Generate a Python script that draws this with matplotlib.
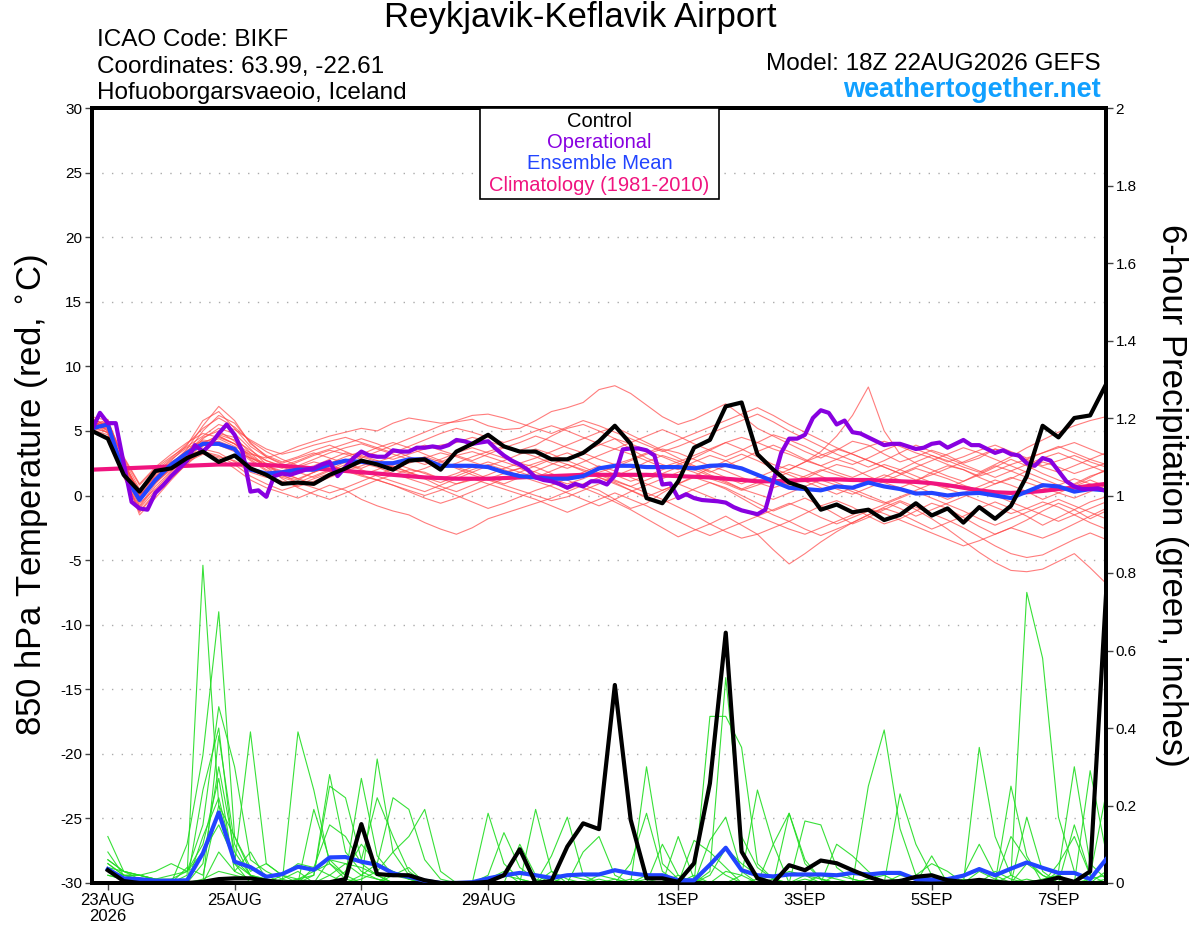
import numpy as np
import matplotlib
matplotlib.use("Agg")
import matplotlib.pyplot as plt
from matplotlib.patches import Rectangle

plt.rcParams['font.family'] = ['Liberation Sans', 'DejaVu Sans']

# ---------------- data ----------------
# time in days since 23AUG2026 00Z; 6-hourly from 22AUG 18Z
n6 = 65
step6 = 0.25
start = -0.25

xtick_days = [0, 2, 4, 6, 9, 11, 13, 15]
xtick_labels = ["23AUG\n2026", "25AUG", "27AUG", "29AUG", "1SEP", "3SEP", "5SEP", "7SEP"]

legend_labels = ['Control', 'Operational', 'Ensemble Mean', 'Climatology (1981-2010)']

control_temp = [5.0, 4.4, 1.6, 0.3, 1.9, 2.1, 2.9, 3.4, 2.6, 3.1, 2.1, 1.6, 0.9, 1.0, 0.9, 1.6,
                2.1, 2.7, 2.4, 2.0, 2.7, 2.8, 2.0, 3.4, 4.0, 4.7, 3.8, 3.4, 3.4, 2.8, 2.8, 3.3,
                4.2, 5.4, 4.0, -0.2, -0.6, 1.1, 3.7, 4.3, 6.9, 7.2, 3.2, 2.0, 1.0, 0.6, -1.1, -0.7,
                -1.3, -1.1, -1.9, -1.5, -0.6, -1.55, -1.0, -2.1, -0.9, -1.8, -0.8, 1.5, 5.4, 4.5, 6.0, 6.2,
                8.6]

# operational is 3-hourly (129 values)
operational_temp = [5.1, 6.4, 5.6, 5.6, 2.5, -0.5, -1.0, -1.1, 0.2, 0.8, 1.5, 2.1, 2.7, 3.9, 3.4, 4.0,
                    4.8, 5.5, 4.7, 3.4, 0.3, 0.4, -0.1, 1.5, 1.7, 1.6, 1.8, 2.0, 2.1, 2.4, 2.6, 1.5,
                    2.2, 2.9, 3.4, 3.1, 3.0, 3.0, 3.5, 3.4, 3.4, 3.7, 3.7, 3.8, 3.7, 3.9, 4.3, 4.2,
                    4.0, 4.1, 4.2, 3.6, 3.1, 2.7, 2.4, 2.0, 1.4, 1.2, 1.1, 0.9, 0.6, 0.9, 0.7, 1.1,
                    1.1, 0.85, 1.55, 3.57, 3.64, 3.64, 3.5, 3.1, 0.85, 0.93, -0.2, 0.1, -0.2, -0.35, -0.4, -0.45,
                    -0.55, -0.9, -1.15, -1.3, -1.45, -1.1, 1.1, 3.3, 4.4, 4.4, 4.7, 6.0, 6.6, 6.4, 5.5, 5.8,
                    4.9, 4.8, 4.5, 4.2, 3.9, 4.0, 4.0, 3.8, 3.6, 3.7, 4.0, 4.1, 3.7, 4.0, 4.3, 3.9,
                    3.9, 3.6, 3.3, 3.5, 3.2, 3.1, 2.5, 2.3, 2.9, 2.7, 1.9, 1.1, 0.7, 0.5, 0.5, 0.55,
                    0.35]

mean_temp = [5.2, 5.5, 1.7, -0.35, 1.2, 2.4, 3.3, 4.0, 4.0, 3.6, 2.0, 1.7, 1.8, 2.0, 2.0, 2.4,
             2.7, 2.6, 2.5, 2.5, 2.8, 2.8, 2.3, 2.3, 2.3, 2.2, 1.8, 1.5, 1.4, 1.3, 1.3, 1.5,
             2.1, 2.3, 2.3, 2.2, 2.2, 2.2, 2.1, 2.3, 2.35, 2.1, 1.6, 1.1, 0.6, 0.5, 0.4, 0.7,
             0.6, 1.0, 0.7, 0.5, 0.15, 0.2, 0.0, 0.15, 0.2, 0.0, -0.2, 0.3, 0.8, 0.7, 0.3, 0.5,
             0.4]

climo_temp = [2.0, 2.05, 2.1, 2.15, 2.2, 2.25, 2.3, 2.35, 2.4, 2.4, 2.4, 2.35, 2.3, 2.2, 2.1, 2.0,
              1.9, 1.8, 1.7, 1.6, 1.5, 1.4, 1.35, 1.3, 1.3, 1.3, 1.35, 1.4, 1.45, 1.5, 1.55, 1.6,
              1.6, 1.6, 1.6, 1.6, 1.55, 1.5, 1.45, 1.4, 1.3, 1.2, 1.1, 1.1, 1.15, 1.2, 1.25, 1.25,
              1.2, 1.2, 1.15, 1.1, 1.05, 0.95, 0.8, 0.6, 0.4, 0.25, 0.2, 0.25, 0.35, 0.5, 0.6, 0.75,
              0.9]

member_temp_01 = [5.8, 5.2, 2.1, -0.8, 0.9, 2.2, 3.4, 4.5, 5.0, 4.2, 2.8, 2.0, 1.5, 1.2, 1.8, 2.5, 3.0, 3.4, 3.1, 2.8, 3.2, 3.6, 3.9, 4.1, 4.5, 4.2, 3.8, 3.5, 3.9, 4.6, 5.2, 5.5, 5.0, 4.4, 3.6, 2.9, 2.4, 2.0, 2.6, 3.1, 2.7, 2.1, 1.6, 1.2, 0.8, 1.3, 1.9, 2.4, 2.1, 1.5, 1.0, 0.6, 1.1, 1.8, 2.3, 2.0, 1.4, 0.9, 1.3, 1.9, 2.6, 2.2, 1.7, 2.1, 2.5]
member_temp_02 = [5.4, 5.9, 2.6, 0.2, 1.5, 2.4, 3.1, 3.9, 4.4, 3.8, 3.2, 2.9, 3.3, 3.8, 4.2, 4.6, 4.9, 5.2, 5.0, 5.6, 6.0, 5.8, 5.6, 5.7, 5.9, 5.4, 5.1, 5.2, 5.8, 6.5, 6.8, 7.2, 8.2, 8.5, 7.9, 7.0, 6.1, 5.5, 5.9, 6.5, 7.1, 6.2, 5.2, 4.6, 4.0, 3.4, 2.9, 3.5, 4.2, 3.9, 3.2, 2.6, 3.0, 3.5, 3.1, 2.5, 2.9, 3.6, 3.2, 2.8, 2.3, 2.7, 3.1, 2.6, 2.2]
member_temp_03 = [6.0, 5.3, 1.6, -1.2, 0.2, 1.5, 2.6, 3.2, 2.9, 2.1, 1.2, 0.6, 0.2, -0.2, 0.3, 0.8, 0.4, -0.3, -0.8, -1.2, -1.5, -2.1, -2.6, -3.0, -2.5, -1.8, -1.4, -1.0, -0.6, -0.2, 0.3, 0.8, 0.4, -0.3, -1.0, -0.6, 0.2, 0.9, 1.4, 1.0, 0.5, -0.2, -0.9, -1.5, -2.0, -1.4, -0.8, -0.4, -0.9, -1.6, -2.2, -1.8, -1.2, -0.6, -1.0, -1.7, -2.4, -3.0, -2.5, -1.9, -1.2, -0.6, -1.1, -1.8, -1.2]
member_temp_04 = [5.1, 4.7, 1.9, -0.3, 1.2, 2.3, 3.0, 3.6, 3.3, 2.6, 1.8, 1.4, 1.7, 2.2, 2.6, 2.3, 1.9, 1.5, 1.2, 1.6, 2.0, 1.8, 1.3, 0.9, 1.2, 1.6, 2.1, 2.5, 2.2, 1.7, 1.2, 0.6, 0.1, -0.5, -1.1, -1.8, -2.5, -3.2, -2.7, -2.2, -1.6, -2.3, -3.0, -4.2, -5.3, -4.5, -3.6, -2.8, -2.1, -1.5, -1.0, -1.4, -2.0, -2.6, -2.1, -1.6, -1.0, -0.5, -1.0, -1.6, -2.3, -1.7, -1.1, -0.5, -0.1]
member_temp_05 = [5.5, 5.6, 2.4, 0.1, 1.0, 2.0, 3.3, 5.0, 6.2, 5.6, 4.1, 3.0, 2.4, 2.0, 2.3, 2.8, 3.3, 3.0, 2.6, 2.2, 2.5, 2.9, 3.3, 3.0, 2.6, 2.2, 1.8, 2.1, 2.5, 2.9, 3.3, 2.8, 2.2, 1.6, 1.1, 1.5, 2.0, 2.4, 2.9, 3.5, 4.1, 3.6, 3.0, 2.4, 2.0, 2.6, 3.4, 4.6, 6.2, 8.4, 5.0, 3.2, 2.5, 2.0, 1.5, 1.1, 1.6, 2.2, 2.8, 2.3, 1.7, 1.2, 0.8, 1.4, 2.0]
member_temp_06 = [5.9, 5.4, 1.8, -1.5, -0.2, 1.2, 2.5, 3.8, 4.6, 4.0, 3.1, 2.3, 1.8, 1.3, 0.9, 1.4, 1.9, 2.3, 2.7, 2.3, 1.8, 1.3, 0.7, 0.3, 0.8, 1.3, 1.7, 2.1, 1.6, 1.0, 0.5, 0.9, 1.4, 1.0, 0.4, -0.2, -0.6, -0.1, 0.5, 1.0, 0.6, 0.0, -0.6, -1.2, -0.7, -0.2, -0.8, -1.5, -2.2, -1.7, -1.1, -0.5, -1.1, -1.8, -2.6, -3.5, -4.4, -5.2, -5.8, -5.9, -5.7, -5.1, -4.5, -5.6, -6.8]
member_temp_07 = [5.3, 4.9, 2.3, 0.4, 1.7, 2.8, 3.7, 4.2, 3.9, 3.4, 2.9, 2.5, 2.1, 2.6, 3.1, 3.5, 3.2, 2.8, 2.4, 2.0, 1.7, 2.1, 2.6, 3.1, 3.4, 3.0, 2.6, 2.2, 1.8, 1.3, 0.9, 1.3, 1.8, 2.2, 2.7, 3.2, 3.6, 3.3, 2.8, 2.3, 1.9, 1.4, 1.0, 0.6, 1.0, 1.5, 2.0, 1.6, 1.2, 0.9, 1.4, 2.0, 2.6, 3.1, 2.7, 2.2, 1.8, 2.4, 3.0, 3.7, 4.3, 4.9, 5.4, 5.8, 6.1]
member_temp_08 = [5.6, 5.0, 2.0, -0.6, 0.5, 1.8, 3.0, 4.4, 5.2, 4.8, 3.6, 2.4, 1.6, 1.0, 0.6, 0.2, 0.6, 1.1, 1.6, 2.1, 2.6, 3.0, 2.6, 2.1, 1.6, 1.2, 0.8, 0.4, 0.0, -0.4, -0.1, 0.4, 0.9, 1.5, 2.0, 2.6, 3.1, 2.7, 2.2, 1.6, 1.1, 0.5, 0.1, -0.3, 0.2, 0.7, 1.2, 0.8, 0.3, -0.2, -0.6, -0.1, 0.4, 0.9, 0.5, 0.1, -0.4, -0.9, -1.4, -1.0, -0.5, -0.9, -1.5, -2.1, -2.6]
member_temp_09 = [5.2, 5.5, 2.9, 0.8, 2.1, 3.0, 3.8, 4.6, 5.5, 5.1, 4.3, 3.6, 3.2, 3.5, 3.9, 4.2, 4.5, 4.1, 3.7, 3.3, 3.8, 4.3, 4.8, 5.2, 4.9, 4.5, 4.1, 4.5, 5.0, 5.4, 5.0, 4.5, 4.0, 3.6, 4.1, 4.6, 5.1, 4.6, 4.0, 3.5, 3.0, 3.5, 4.1, 4.7, 4.3, 3.8, 3.2, 2.8, 2.4, 2.9, 3.5, 4.0, 3.6, 3.1, 2.6, 3.0, 3.5, 3.9, 3.4, 2.9, 3.3, 3.8, 3.3, 2.8, 2.4]
member_temp_10 = [5.7, 4.8, 1.4, -1.0, 0.4, 1.6, 2.8, 4.0, 4.7, 4.3, 3.5, 2.7, 2.2, 1.8, 1.4, 1.9, 2.4, 2.0, 1.5, 1.1, 0.7, 0.3, 0.8, 1.3, 1.8, 2.3, 2.7, 3.2, 3.6, 3.2, 2.7, 2.2, 1.7, 1.2, 0.7, 0.2, -0.3, -0.9, -1.5, -2.2, -2.8, -3.3, -3.0, -2.5, -2.0, -2.6, -3.1, -2.6, -2.1, -1.5, -0.9, -0.4, -0.9, -1.4, -1.9, -2.5, -3.2, -3.9, -4.5, -4.8, -4.6, -4.0, -3.4, -2.9, -3.4]
member_temp_11 = [6.1, 5.8, 2.7, 0.0, 1.3, 2.5, 3.5, 4.3, 4.1, 3.5, 2.9, 2.3, 1.9, 2.3, 2.8, 3.3, 3.7, 4.0, 3.6, 3.2, 2.8, 2.4, 2.8, 3.3, 3.7, 3.3, 2.9, 2.5, 2.9, 3.4, 3.9, 4.4, 4.9, 5.3, 4.7, 4.1, 3.5, 2.9, 2.3, 1.8, 2.3, 2.8, 3.4, 3.9, 3.4, 2.8, 2.3, 1.8, 1.4, 1.9, 2.4, 2.0, 1.5, 1.0, 0.6, 1.1, 1.7, 2.3, 1.9, 1.4, 0.9, 0.4, 0.9, 1.5, 1.9]
member_temp_12 = [5.0, 4.5, 1.7, -0.9, 0.7, 1.9, 2.9, 3.4, 3.1, 2.4, 1.5, 0.9, 0.4, 0.8, 1.3, 1.7, 2.1, 2.5, 2.2, 1.7, 1.3, 0.9, 0.5, 0.0, -0.5, -1.0, -0.6, -0.1, 0.4, 0.8, 1.3, 1.8, 2.3, 1.9, 1.4, 0.9, 0.4, 0.9, 1.5, 2.1, 2.7, 3.2, 2.7, 2.1, 1.6, 1.1, 0.6, 0.1, 0.6, 1.1, 1.6, 1.2, 0.7, 0.2, -0.3, 0.2, 0.7, 1.2, 0.8, 0.3, -0.3, 0.2, 0.7, 1.2, 0.7]
member_temp_13 = [5.6, 5.1, 2.2, -0.4, 1.1, 2.4, 3.6, 5.4, 6.9, 5.8, 4.0, 3.1, 2.6, 3.0, 3.5, 3.9, 3.4, 2.9, 3.4, 3.9, 4.4, 4.9, 5.4, 5.8, 6.2, 6.3, 6.0, 5.6, 5.2, 4.8, 5.3, 5.8, 5.4, 4.9, 4.4, 3.9, 3.4, 3.8, 4.3, 4.8, 5.3, 5.8, 6.3, 5.7, 5.0, 4.4, 3.8, 3.2, 2.7, 2.2, 2.7, 3.3, 3.9, 3.4, 2.9, 2.4, 1.9, 1.4, 1.9, 2.4, 2.9, 3.3, 2.8, 2.3, 1.8]
member_temp_14 = [5.4, 5.2, 2.5, 0.3, 1.4, 2.6, 3.3, 3.9, 4.2, 3.7, 2.7, 1.9, 1.4, 1.0, 1.5, 2.0, 2.6, 3.1, 2.7, 2.2, 1.8, 1.4, 1.0, 1.5, 2.0, 2.4, 2.0, 1.5, 1.1, 0.7, 0.2, -0.3, -0.8, -0.3, 0.3, 0.8, 1.3, 1.8, 2.3, 1.9, 1.4, 0.9, 1.4, 1.9, 2.4, 2.0, 1.5, 1.0, 0.5, 0.0, -0.5, -1.0, -1.6, -1.1, -0.6, -0.1, 0.4, 0.0, -0.5, -1.0, -1.5, -2.0, -1.5, -1.0, -0.5]
member_temp_15 = [5.8, 5.6, 2.8, 0.5, 1.9, 2.9, 4.0, 5.2, 6.0, 5.3, 4.2, 3.4, 2.8, 2.3, 1.8, 2.2, 2.7, 3.2, 3.7, 4.1, 3.7, 3.2, 2.7, 2.2, 1.8, 1.3, 0.9, 1.4, 1.9, 2.4, 2.9, 3.4, 3.9, 4.4, 4.0, 3.5, 3.0, 2.5, 2.0, 1.5, 1.0, 0.5, 1.0, 1.5, 2.0, 2.6, 3.1, 3.6, 3.2, 2.7, 2.2, 1.7, 2.2, 2.7, 3.2, 3.7, 3.3, 2.8, 2.3, 1.8, 1.3, 0.8, 1.3, 0.9, 0.5]
member_temp_16 = [5.2, 4.9, 2.0, -0.2, 1.0, 2.1, 2.7, 3.3, 3.0, 2.7, 2.0, 1.5, 1.1, 0.7, 1.1, 1.6, 2.0, 1.6, 1.2, 0.8, 0.4, 0.0, 0.4, 0.9, 1.3, 0.9, 0.5, 0.1, -0.3, -0.8, -1.3, -0.8, -0.3, 0.2, -0.3, -0.8, -1.4, -2.0, -2.6, -3.1, -2.6, -2.1, -1.6, -1.1, -0.6, -1.1, -1.7, -2.2, -1.7, -1.2, -0.7, -0.2, 0.3, -0.2, -0.7, -1.2, -1.8, -2.3, -1.8, -1.3, -0.8, -0.3, -0.8, -1.3, -1.8]
member_temp_17 = [5.5, 5.4, 2.3, -0.1, 1.6, 2.7, 3.9, 5.8, 6.5, 5.2, 3.8, 3.0, 2.5, 2.9, 3.3, 2.9, 2.5, 2.1, 2.6, 3.0, 3.5, 3.9, 3.5, 3.1, 2.7, 3.2, 3.7, 4.1, 4.6, 4.2, 3.7, 3.3, 2.8, 2.4, 2.8, 3.3, 3.8, 4.3, 4.8, 5.3, 5.8, 6.3, 6.8, 6.2, 5.5, 4.9, 4.3, 3.7, 3.2, 2.7, 2.2, 1.7, 1.2, 1.6, 2.1, 2.6, 3.1, 3.6, 3.2, 2.7, 2.2, 1.8, 2.3, 2.8, 3.3]
member_temp_18 = [5.9, 5.0, 1.5, -1.3, 0.1, 1.4, 2.4, 3.5, 4.8, 4.5, 3.3, 2.2, 1.3, 0.6, 0.1, -0.3, 0.2, 0.7, 1.2, 0.8, 0.3, -0.2, -0.6, -0.2, 0.3, 0.8, 1.3, 1.8, 2.3, 2.8, 2.4, 1.9, 1.4, 0.9, 0.4, -0.1, 0.4, 0.9, 0.4, -0.1, -0.6, -1.1, -1.6, -2.1, -2.6, -3.0, -2.5, -2.0, -1.5, -1.0, -1.4, -1.9, -2.4, -2.9, -3.4, -3.9, -3.5, -3.0, -2.5, -2.9, -3.3, -2.8, -2.2, -1.6, -1.0]
member_temp_19 = [5.3, 5.7, 3.0, 0.9, 2.2, 3.2, 4.1, 4.8, 4.5, 4.0, 3.3, 2.7, 2.3, 2.7, 3.2, 3.6, 4.0, 4.4, 4.0, 3.5, 3.0, 2.6, 2.1, 2.5, 3.0, 3.4, 3.8, 3.4, 3.0, 2.5, 2.1, 2.6, 3.1, 3.6, 3.2, 2.7, 2.2, 2.6, 3.1, 3.6, 4.1, 4.5, 4.1, 3.6, 3.2, 2.7, 2.3, 2.8, 3.3, 3.8, 4.2, 3.8, 3.3, 2.9, 2.4, 2.0, 1.5, 1.9, 2.4, 2.8, 3.3, 3.7, 4.1, 3.6, 3.1]
member_temp_20 = [5.6, 5.3, 2.4, 0.0, 1.2, 2.2, 3.2, 4.1, 4.6, 4.0, 3.0, 2.2, 1.7, 1.3, 1.8, 2.3, 2.0, 1.6, 2.0, 2.5, 2.1, 1.7, 1.3, 1.7, 2.2, 2.6, 2.2, 1.8, 1.4, 1.9, 2.4, 2.0, 1.6, 1.1, 0.7, 1.2, 1.7, 2.2, 1.8, 1.3, 0.9, 0.4, 0.8, 1.3, 1.8, 1.4, 0.9, 0.5, 0.1, 0.6, 1.1, 1.6, 2.1, 1.7, 1.3, 0.8, 0.4, 0.9, 1.4, 1.0, 0.6, 0.2, -0.2, 0.3, 0.8]

member_temps = [member_temp_01, member_temp_02, member_temp_03, member_temp_04, member_temp_05,
                member_temp_06, member_temp_07, member_temp_08, member_temp_09, member_temp_10,
                member_temp_11, member_temp_12, member_temp_13, member_temp_14, member_temp_15,
                member_temp_16, member_temp_17, member_temp_18, member_temp_19, member_temp_20]

# 6-hour precipitation (inches), valid 23AUG 00Z .. 7SEP 18Z (64 values)
control_precip = [0.033, 0.005, 0.0, 0.0, 0.0, 0.0, 0.003, 0.01, 0.012, 0.012, 0.006, 0.002, 0.002, 0.002, 0.002, 0.01,
                  0.152, 0.023, 0.02, 0.02, 0.007, 0.0, 0.0, 0.0, 0.003, 0.02, 0.087, 0.0, 0.005, 0.094, 0.154, 0.139,
                  0.511, 0.163, 0.012, 0.012, 0.003, 0.051, 0.257, 0.646, 0.081, 0.012, 0.0, 0.046, 0.033, 0.058, 0.051, 0.033,
                  0.016, 0.003, 0.005, 0.016, 0.02, 0.007, 0.003, 0.008, 0.003, 0.0, 0.0, 0.004, 0.014, 0.003, 0.03, 0.743]
mean_precip = [0.036, 0.012, 0.010, 0.006, 0.006, 0.007, 0.077, 0.182, 0.055, 0.041, 0.016, 0.023, 0.042, 0.034, 0.066, 0.067,
               0.055, 0.047, 0.025, 0.016, 0.006, 0.0, 0.0, 0.002, 0.012, 0.02, 0.026, 0.02, 0.013, 0.02, 0.022, 0.022,
               0.033, 0.025, 0.02, 0.02, 0.007, 0.007, 0.047, 0.091, 0.033, 0.02, 0.017, 0.022, 0.022, 0.022, 0.02, 0.026,
               0.022, 0.026, 0.026, 0.01, 0.009, 0.01, 0.019, 0.036, 0.02, 0.037, 0.053, 0.039, 0.026, 0.026, 0.01, 0.061]

member_precip_01 = [.12, .03, .02, .01, .00, .02, .82, .20, .05, .02, .00, .01, .03, .00, .02, .05, .02, .01, .00, .00, .00, .00, .00, .00, .01, .03, .00, .00, .01, .00, .00, .01, .00, .00, .02, .01, .00, .00, .05, .02, .00, .00, .01, .03, .02, .00, .00, .00, .01, .02, .00, .00, .00, .00, .01, .00, .00, .02, .75, .58, .17, .03, .00, .01]
member_precip_02 = [.08, .02, .01, .00, .00, .10, .33, .70, .12, .04, .02, .00, .01, .03, .05, .02, .00, .00, .03, .01, .00, .00, .00, .00, .18, .05, .01, .00, .00, .02, .01, .00, .00, .01, .00, .00, .02, .00, .03, .53, .12, .04, .01, .00, .00, .02, .01, .00, .00, .00, .02, .01, .00, .00, .00, .03, .01, .00, .05, .02, .00, .00, .01, .02]
member_precip_03 = [.06, .03, .02, .03, .05, .03, .15, .455, .30, .06, .03, .01, .00, .02, .28, .08, .03, .01, .00, .00, .00, .00, .00, .00, .02, .13, .04, .01, .00, .00, .00, .02, .01, .00, .00, .00, .00, .00, .43, .43, .35, .05, .01, .00, .02, .01, .00, .00, .00, .00, .01, .00, .02, .01, .00, .00, .03, .01, .00, .01, .02, .00, .00, .00]
member_precip_04 = [.05, .02, .01, .00, .00, .00, .24, .40, .05, .39, .05, .02, .00, .19, .06, .02, .27, .07, .02, .01, .00, .00, .00, .00, .00, .00, .10, .02, .00, .00, .00, .00, .00, .00, .30, .05, .01, .00, .00, .00, .00, .01, .00, .18, .05, .01, .00, .00, .00, .00, .00, .00, .00, .00, .02, .10, .02, .00, .00, .00, .03, .30, .05, .01]
member_precip_05 = [.04, .01, .00, .00, .00, .00, .05, .30, .08, .02, .01, .00, .39, .24, .05, .01, .00, .32, .08, .02, .00, .00, .00, .00, .00, .00, .00, .19, .03, .00, .00, .00, .00, .00, .01, .00, .00, .02, .00, .00, .00, .00, .00, .00, .01, .00, .00, .00, .25, .395, .14, .02, .00, .00, .00, .00, .00, .00, .01, .00, .00, .00, .00, .00]
member_precip_06 = [.03, .02, .02, .01, .01, .03, .10, .27, .03, .08, .01, .00, .01, .02, .25, .22, .06, .22, .12, .03, .00, .00, .00, .00, .00, .02, .01, .00, .07, .17, .02, .00, .01, .00, .00, .10, .02, .00, .00, .00, .02, .24, .10, .00, .00, .00, .02, .01, .00, .00, .00, .00, .00, .01, .00, .00, .00, .00, .17, .03, .00, .15, .02, .23]
member_precip_07 = [.02, .01, .00, .00, .00, .04, .02, .20, .12, .03, .05, .02, .01, .00, .00, .03, .10, .05, .22, .19, .06, .01, .00, .00, .00, .00, .00, .00, .00, .00, .08, .12, .02, .00, .00, .00, .12, .01, .00, .00, .00, .00, .00, .00, .16, .15, .04, .01, .00, .00, .23, .10, .02, .00, .00, .00, .00, .00, .00, .00, .00, .00, .29, .08]
member_precip_08 = [.05, .02, .02, .01, .02, .03, .08, .15, .06, .02, .00, .00, .00, .04, .02, .00, .01, .03, .08, .12, .19, .03, .00, .00, .00, .00, .00, .00, .00, .00, .00, .00, .00, .05, .18, .03, .00, .00, .11, .17, .03, .00, .00, .00, .00, .00, .10, .07, .03, .00, .00, .00, .07, .00, .00, .35, .12, .02, .00, .00, .00, .00, .00, .00]
member_precip_09 = [.04, .03, .01, .00, .00, .00, .01, .03, .02, .01, .00, .00, .00, .00, .00, .00, .02, .05, .03, .01, .00, .00, .00, .00, .00, .00, .00, .00, .00, .00, .00, .00, .00, .00, .00, .00, .00, .00, .00, .00, .00, .00, .10, .18, .06, .01, .00, .00, .00, .00, .00, .00, .00, .00, .00, .00, .00, .25, .07, .00, .00, .00, .00, .00]
member_precip_10 = [.06, .03, .02, .01, .00, .00, .00, .08, .03, .01, .00, .00, .00, .00, .06, .05, .04, .02, .00, .00, .00, .00, .00, .00, .00, .00, .00, .00, .03, .01, .00, .00, .00, .00, .00, .00, .00, .11, .08, .04, .00, .00, .00, .00, .00, .00, .00, .00, .00, .00, .00, .02, .05, .03, .00, .00, .00, .12, .06, .02, .00, .00, .00, .00]
member_precip_11 = [.03, .01, .00, .00, .00, .00, .00, .38, .10, .02, .01, .00, .00, .00, .00, .00, .00, .00, .02, .04, .00, .00, .00, .00, .00, .00, .00, .00, .00, .00, .00, .00, .00, .00, .00, .00, .00, .00, .00, .03, .02, .00, .00, .00, .00, .00, .00, .00, .00, .00, .00, .00, .00, .00, .00, .00, .00, .00, .00, .00, .00, .00, .00, .03]
member_precip_12 = [.02, .01, .01, .00, .00, .00, .12, .22, .05, .00, .00, .02, .05, .04, .15, .12, .05, .02, .00, .00, .00, .00, .00, .00, .00, .00, .00, .00, .00, .00, .00, .00, .00, .00, .00, .00, .00, .00, .02, .09, .05, .02, .00, .00, .00, .00, .00, .00, .00, .00, .00, .00, .00, .00, .00, .00, .00, .00, .00, .00, .05, .12, .02, .00]

member_precips = [member_precip_01, member_precip_02, member_precip_03, member_precip_04,
                  member_precip_05, member_precip_06, member_precip_07, member_precip_08,
                  member_precip_09, member_precip_10, member_precip_11, member_precip_12]

# ---------------- time axes ----------------
t6 = start + step6 * np.arange(n6)
t3 = start + 0.125 * np.arange(len(operational_temp))
tp = t6[1:]

# ---------------- colours ----------------
c_member_t = '#ff4545'
c_member_p = '#22dd22'
c_control = 'black'
c_oper = '#8800e0'
c_mean = '#2244ff'
c_climo = '#f0147f'
legend_colors = [c_control, c_oper, c_mean, c_climo]

fig = plt.figure(figsize=(12, 9.27), dpi=100)
ax = fig.add_axes([92 / 1200, 44 / 927, 1014 / 1200, 775 / 927])
ax2 = ax.twinx()

# temperature members
for m in member_temps:
    ax.plot(t6, m, color=c_member_t, lw=0.8, alpha=0.7, zorder=2)

ax.plot(t6, climo_temp, color=c_climo, lw=3.0, zorder=5)
ax.plot(t6, mean_temp, color=c_mean, lw=3.0, zorder=6)
ax.plot(t3, operational_temp, color=c_oper, lw=3.0, zorder=7)
ax.plot(t6, control_temp, color=c_control, lw=3.0, zorder=8)

# precipitation
for m in member_precips:
    ax2.plot(tp, m, color=c_member_p, lw=0.8, alpha=0.9, zorder=2)
ax2.plot(tp, mean_precip, color=c_mean, lw=3.0, zorder=6)
ax2.plot(tp, control_precip, color=c_control, lw=3.0, zorder=8)

ax.set_xlim(t6[0], t6[-1])
ax.set_ylim(-30, 30)
ax2.set_ylim(0, 2)

ax.set_yticks(np.arange(-30, 31, 5))
ax.set_yticklabels([str(v) for v in range(-30, 31, 5)])
ax2.set_yticks(np.arange(0, 2.01, 0.2))
ax2.set_yticklabels(['0', '0.2', '0.4', '0.6', '0.8', '1', '1.2', '1.4', '1.6', '1.8', '2'])

ax.set_xticks(xtick_days)
ax.set_xticklabels(xtick_labels, linespacing=1.1)

for a in (ax, ax2):
    a.tick_params(axis='both', labelsize=11, length=5, width=1, color='#444444', pad=2)
    for s in a.spines.values():
        s.set_linewidth(2.8)
        s.set_color('black')
ax.tick_params(axis='x', labelsize=12)

for v in range(-25, 30, 5):
    ax.axhline(v, color='#aaaaaa', lw=1.0, ls=(0, (1, 6)), zorder=1)

ax.set_ylabel('850 hPa Temperature (red, $^{\\circ}$C)', fontsize=25, va='center')
ax.yaxis.set_label_coords(-0.06, 0.5)
ax2.set_ylabel('6-hour Precipitation (green, inches)', fontsize=25, rotation=270, va='center')
ax2.yaxis.set_label_coords(1.065, 0.5)

# legend box (text only, centered lines)
x0 = (480 - 92) / 1014
x1 = (719 - 92) / 1014
y0 = (883 - 199) / 775
ax2.add_patch(Rectangle((x0, y0), x1 - x0, 1.0 - y0, transform=ax2.transAxes,
                        facecolor='white', edgecolor='black', lw=1.2, zorder=20, clip_on=False))
legend_y_px = [121, 142, 163, 185]
for lab, col, ypx in zip(legend_labels, legend_colors, legend_y_px):
    ax2.text(0.5 * (x0 + x1), (883 - ypx) / 775, lab, transform=ax2.transAxes, ha='center',
             va='center', color=col, fontsize=14.5, zorder=21)

# header texts
fig.text(580 / 1200, 1 - 18 / 927, 'Reykjavik-Keflavik Airport', ha='center', va='center', fontsize=25)
fig.text(97 / 1200, 1 - 40 / 927, 'ICAO Code: BIKF', ha='left', va='center', fontsize=17.5)
fig.text(97 / 1200, 1 - 67 / 927, 'Coordinates: 63.99, -22.61', ha='left', va='center', fontsize=17.5)
fig.text(97 / 1200, 1 - 93 / 927, 'Hofuoborgarsvaeoio, Iceland', ha='left', va='center', fontsize=17.5)
fig.text(1101 / 1200, 1 - 64 / 927, 'Model: 18Z 22AUG2026 GEFS', ha='right', va='center', fontsize=17.5)
fig.text(1101 / 1200, 1 - 90 / 927, 'weathertogether.net', ha='right', va='center', fontsize=19.5,
         fontweight='bold', color='#11a0ff')

fig.savefig('out.png', dpi=100)
